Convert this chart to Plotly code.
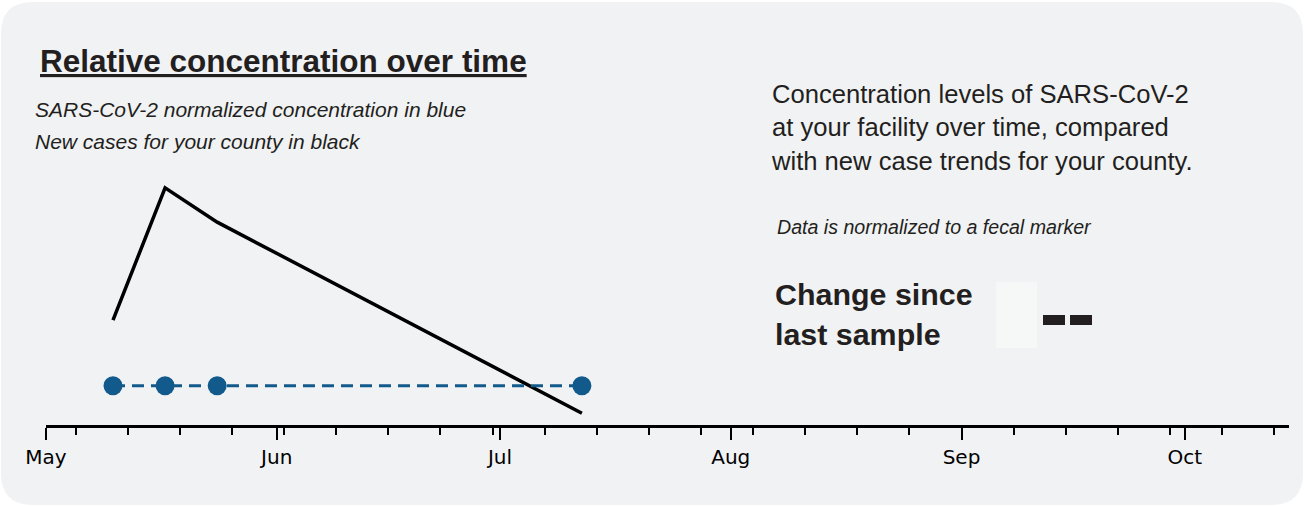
import plotly.graph_objects as go

case_dates = ["2024-05-10", "2024-05-17", "2024-05-24", "2024-07-12"]
case_values = [107, 242, 207, 12]
conc_dates = ["2024-05-10", "2024-05-17", "2024-05-24", "2024-07-12"]
conc_values = [40, 40, 40, 40]

L, R, T, B = 46, 15, 180, 81
W, H = 1304, 506
PW, PH = W - L - R, H - T - B
def px(x): return (x - L) / PW
def py(y): return (H - B - y) / PH

fig = go.Figure()
fig.add_trace(go.Scatter(x=case_dates, y=case_values, mode="lines",
                         line=dict(color="black", width=3.5), hoverinfo="skip"))
fig.add_trace(go.Scatter(x=conc_dates, y=conc_values, mode="lines+markers",
                         line=dict(color="#135a8c", width=3, dash="12px,7px"),
                         marker=dict(size=19, color="#135a8c"), hoverinfo="skip"))

def rr(x0, y0, x1, y1, r):
    X = lambda v: px(v); Y = lambda v: py(v)
    return (f"M {X(x0+r)} {Y(y0)} L {X(x1-r)} {Y(y0)} Q {X(x1)} {Y(y0)} {X(x1)} {Y(y0+r)} "
            f"L {X(x1)} {Y(y1-r)} Q {X(x1)} {Y(y1)} {X(x1-r)} {Y(y1)} L {X(x0+r)} {Y(y1)} "
            f"Q {X(x0)} {Y(y1)} {X(x0)} {Y(y1-r)} L {X(x0)} {Y(y0+r)} Q {X(x0)} {Y(y0)} {X(x0+r)} {Y(y0)} Z")

shapes = [
    dict(type="path", xref="paper", yref="paper", path=rr(1, 2, 1303, 505, 32),
         fillcolor="#f1f2f4", line=dict(width=0), layer="below"),
    dict(type="rect", xref="paper", yref="paper", x0=px(996), x1=px(1037), y0=py(348), y1=py(282),
         fillcolor="#f6f7f7", line=dict(width=0), layer="below"),
    dict(type="rect", xref="paper", yref="paper", x0=px(1043), x1=px(1065), y0=py(325), y1=py(315),
         fillcolor="#231f20", line=dict(width=0)),
    dict(type="rect", xref="paper", yref="paper", x0=px(1070), x1=px(1092), y0=py(325), y1=py(315),
         fillcolor="#231f20", line=dict(width=0)),
]

def ann(x, y, text, size, **kw):
    return dict(xref="paper", yref="paper", x=px(x), y=py(y), text=text, showarrow=False,
                xanchor="left", yanchor="middle", align="left",
                font=dict(size=size, color=kw.pop("color", "#231f20"), family="Liberation Sans, Arial"), **kw)

annotations = [
    ann(38, 61, "<b><u>Relative concentration over time</u></b>", 31.5),
    ann(33, 110, "<i>SARS-CoV-2 normalized concentration in blue</i>", 21),
    ann(33, 142, "<i>New cases for your county in black</i>", 21),
    ann(769, 127, "Concentration levels of SARS-CoV-2<br>at your facility over time, compared<br>with new case trends for your county.", 25.6),
    ann(775, 227, "<i>Data is normalized to a fecal marker</i>", 19.6),
    ann(773, 314, "<b>Change since<br>last sample</b>", 30.4),
]

fig.update_layout(
    width=W, height=H, margin=dict(l=L, r=R, t=T, b=B),
    paper_bgcolor="white", plot_bgcolor="rgba(0,0,0,0)", showlegend=False,
    shapes=shapes, annotations=annotations,
    xaxis=dict(type="date", range=["2024-05-01", "2024-10-15"],
               tickvals=["2024-05-01", "2024-06-01", "2024-07-01", "2024-08-01", "2024-09-01", "2024-10-01"],
               ticktext=["May", "Jun", "Jul", "Aug", "Sep", "Oct"],
               ticks="outside", ticklen=12, tickwidth=2, tickcolor="black",
               minor=dict(ticks="outside", ticklen=7, tickwidth=1.5, tickcolor="black",
                          tick0="2024-05-05", dtick=7 * 86400000),
               showline=True, linecolor="black", linewidth=3, showgrid=False, zeroline=False,
               tickfont=dict(size=20, color="black", family="DejaVu Sans")),
    yaxis=dict(range=[0, 250], visible=False, showgrid=False, zeroline=False),
)
fig.write_html("out.html", config={"displayModeBar": False})
with open("out.html", encoding="utf-8") as f:
    html = f.read()
html = html.replace("<body>", '<body style="margin:0;overflow:hidden">', 1)
with open("out.html", "w", encoding="utf-8") as f:
    f.write(html)
